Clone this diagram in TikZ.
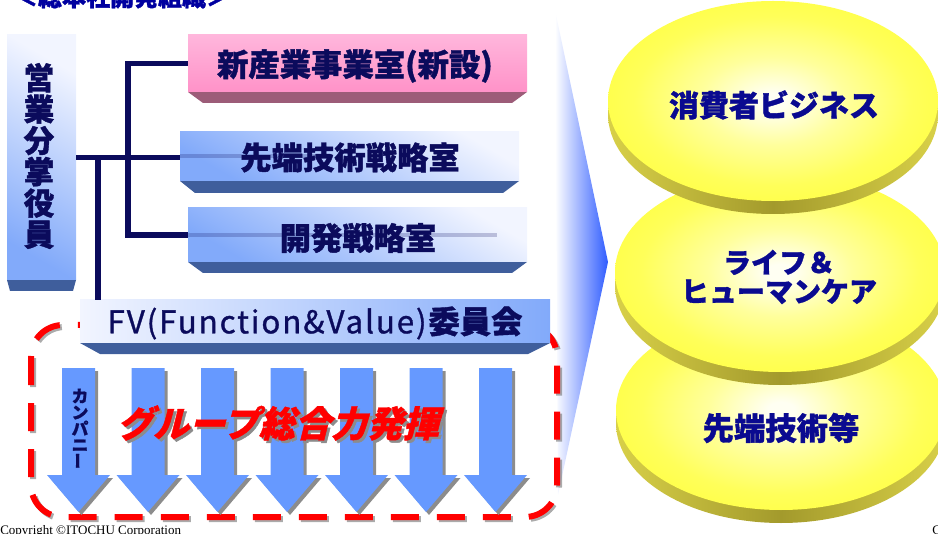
\documentclass[tikz,border=0pt]{standalone}
\usepackage{fontspec}
\usepackage{graphicx}
\setmainfont{Noto Sans CJK JP}[BoldFeatures={FakeBold=1.2}]
\newfontfamily\jpsl{Noto Sans CJK JP}[FakeSlant=0.25,BoldFeatures={FakeBold=1.2}]
\newfontfamily\jpmed{Noto Sans CJK JP}[FakeBold=1.0,LetterSpace=6]
\newfontfamily\tms{Liberation Serif}
\definecolor{navy}{HTML}{0B0B5C}
\definecolor{ttl}{HTML}{0000A0}
\definecolor{etxt}{HTML}{0A0A90}
\definecolor{bev}{HTML}{3F5E9C}
\definecolor{pbev}{HTML}{9C5C78}
\definecolor{arw}{HTML}{6699FF}
\definecolor{bandmid}{HTML}{A39A2C}
\definecolor{bandside}{HTML}{D8D048}
\definecolor{diskin}{HTML}{FFFFF2}
\definecolor{diskmid}{HTML}{FFFF9C}
\definecolor{diskmid2}{HTML}{FFFF5A}
\definecolor{diskout}{HTML}{FFFF38}
\definecolor{chev}{HTML}{2F5CFF}
\definecolor{lbtop}{HTML}{F2F5FF}
\definecolor{lbbot}{HTML}{82AAFA}
\definecolor{pktop}{HTML}{FFB6DC}
\definecolor{pkbot}{HTML}{FF92C8}
\definecolor{reddash}{HTML}{FF0000}
\pgfdeclareradialshading{disk}{\pgfpoint{0bp}{0bp}}{color(0bp)=(diskin); color(2bp)=(diskin); color(11bp)=(diskmid); color(21bp)=(diskmid2); color(32bp)=(diskout); color(50bp)=(diskout)}
\begin{document}
\begin{tikzpicture}[x=0.75pt,y=-0.75pt,
  boxtext/.style={font=\bfseries\fontsize{23.5}{25}\selectfont, text=navy},
  bluebox/.style={rectangle, inner sep=0pt, top color=lbtop, bottom color=lbbot, shading angle=-30},
  pinkbox/.style={rectangle, inner sep=0pt, top color=pktop, bottom color=pkbot},
  navyline/.style={draw=navy, line width=3.8pt},
  faintline/.style={draw=navy, line width=3pt, opacity=0.22},
  arrowshape/.style={fill=arw},
  arrowshadow/.style={fill=black!45},
  disktext/.style={font=\bfseries\fontsize{22.5}{24}\selectfont, text=etxt, align=center}
]
\useasboundingbox (0,0) rectangle (938,534);
\clip (0,0) rectangle (938,534);

% title (cut at top)
\node[font=\bfseries\fontsize{18}{20}\selectfont, text=ttl] (title) at (122,-3) {＜総本社開発組織＞};

% big chevron
\shade[left color=white, right color=chev] (555,10) -- (608,262) -- (558,495) -- cycle;

% red dashed frame
\draw[line width=4.5pt, draw=black!55, opacity=0.6, dash pattern=on 21pt off 13.5pt, rounded corners=24pt] (33,327) rectangle (559,519);
\draw[line width=4.5pt, draw=reddash, dash pattern=on 21pt off 13.5pt, rounded corners=24pt] (31,325) rectangle (557,517);

% left box
\fill[bev] (7,280) -- (76,280) -- (73,291) -- (10,291) -- cycle;
\node[bluebox, minimum width=51.75pt, minimum height=183.75pt] (yak) at (41.5,157.5) {};
\node[boxtext, align=center, font=\bfseries\fontsize{23}{23.5}\selectfont] (yaktxt) at (39,156) {営\\業\\分\\掌\\役\\員};

% box 1 (pink)
\fill[pbev] (188,92) -- (527,92) -- (512,103) -- (203,103) -- cycle;
\node[pinkbox, minimum width=254.25pt, minimum height=42.75pt] (b1) at (357.5,63.5) {};
\node[boxtext] at (355,66) {新産業事業室(新設)};

% box 2
\fill[bev] (180,181) -- (519,181) -- (503,193) -- (195,193) -- cycle;
\node[bluebox, minimum width=254.25pt, minimum height=36.75pt] (b2) at (349.5,156.5) {};
\node[boxtext] at (350,157.5) {先端技術戦略室};

% box 3
\fill[bev] (188,262) -- (527,262) -- (512,273) -- (203,273) -- cycle;
\node[bluebox, minimum width=254.25pt, minimum height=40.5pt] (b3) at (357.5,235) {};
\node[boxtext] at (358,238) {開発戦略室};

% FV box
\fill[bev] (80,343) -- (550,343) -- (528,354) -- (100,354) -- cycle;
\node[rectangle, inner sep=0pt, left color=lbtop, right color=lbbot, minimum width=352.5pt, minimum height=32.25pt] (fv) at (315,321.5) {};
\node[text=navy, font=\fontsize{23.5}{25}\selectfont] at (315,323) {{\jpmed FV(Function\&Value)}\textbf{委員会}};

% connectors
\coordinate (j1) at (128,155);
\coordinate (j2) at (98,155);
\draw[navyline] (yak.east) -- (yak.east -| b2.west);
\draw[navyline] (b1.west) -- (b1.west -| j1) |- (b3.west);
\draw[navyline] (j2 |- yak.east) -- (j2 |- fv.north);
\draw[faintline] (b2.west) -- ++(150,0);
\draw[faintline] (b3.west) -- ++(309,0);

% arrows
\foreach \i in {0,...,6}{
  \pgfmathsetmacro\cx{78.5+69.5*\i}
  \fill[arrowshadow] ({\cx-16.5+3},371) -- ({\cx+16.5+3},371) -- ({\cx+16.5+3},478) -- ({\cx+31.5+3},478) -- ({\cx+3},515) -- ({\cx-31.5+3},478) -- ({\cx-16.5+3},478) -- cycle;
  \fill[arrowshape] ({\cx-16.5},368) -- ({\cx+16.5},368) -- ({\cx+16.5},475) -- ({\cx+31.5},475) -- (\cx,512) -- ({\cx-31.5},475) -- ({\cx-16.5},475) -- cycle;
}
\node[text=navy, font=\bfseries\fontsize{12.5}{12.2}\selectfont, align=center, inner sep=0pt] (comp) at (80,429) {カ\\ン\\パ\\ニ\\\rotatebox{90}{ー}};

% slogan
\node[text=black!45, font=\jpsl\bfseries\fontsize{27}{30}\selectfont] at (280.5,425.5) {グループ総合力発揮};
\node[text=reddash, font=\jpsl\bfseries\fontsize{27}{30}\selectfont] (slogan) at (278,423) {グループ総合力発揮};

% disks
\shade[left color=bandside, right color=bandside, middle color=bandmid] (781,423) ellipse (123.75pt and 75pt);
\shade[shading=disk] (781,410) ellipse (123.75pt and 75pt);
\shade[left color=bandside, right color=bandside, middle color=bandmid] (780,285) ellipse (123.75pt and 75pt);
\shade[shading=disk] (780,272) ellipse (123.75pt and 75pt);
\shade[left color=bandside, right color=bandside, middle color=bandmid] (773,114) ellipse (123.75pt and 75pt);
\shade[shading=disk] (773,101) ellipse (123.75pt and 75pt);

\node[disktext] (d1) at (774,105) {消費者ビジネス};
\node[disktext, font=\bfseries\fontsize{21}{21.75}\selectfont] (d2) at (779,277) {ライフ＆\\ヒューマンケア};
\node[disktext, font=\bfseries\fontsize{23.5}{25}\selectfont] (d3) at (781,428) {先端技術等};

% footer
\node[anchor=base west, inner sep=0pt, font=\tms\fontsize{9.75}{11}\selectfont] (copy) at (0,534.5) {Copyright ©ITOCHU Corporation};
\node[anchor=base west, inner sep=0pt, font=\tms\fontsize{9.75}{11}\selectfont] (pg) at (932,534.5) {C};
\end{tikzpicture}
\end{document}
